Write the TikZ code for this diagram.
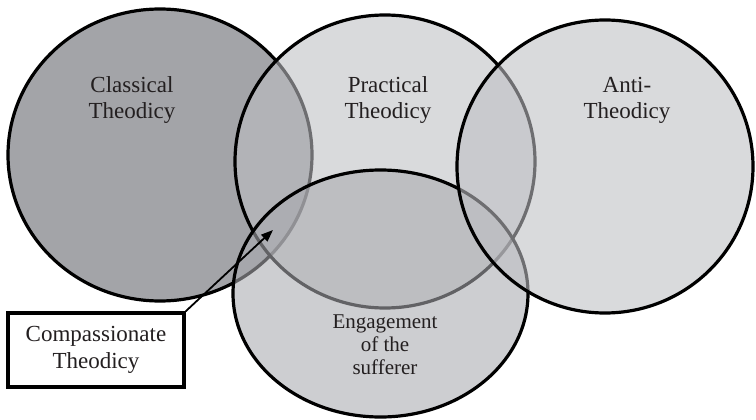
\documentclass[tikz,border=0pt]{standalone}
\usepackage{fontspec}
\setmainfont{Liberation Serif}
\usetikzlibrary{arrows.meta}
\definecolor{classfill}{RGB}{163,164,168}
\definecolor{lightfill}{RGB}{190,191,195}
\definecolor{engfill}{RGB}{169,170,175}
\definecolor{inktext}{RGB}{35,31,32}
\begin{document}
\begin{tikzpicture}[x=1pt,y=-1pt,
  circ/.style={line width=3.2pt, draw=black, fill opacity=0.58},
  lbl/.style={font=\fontsize{23}{26}\selectfont, align=center, text=inktext, inner sep=0pt},
  lblsmall/.style={font=\fontsize{21}{23}\selectfont, align=center, text=inktext, inner sep=0pt},
  callout/.style={draw=black, line width=3.5pt, fill=white, minimum width=176pt, minimum height=74pt, align=center, text=inktext, font=\fontsize{23}{27}\selectfont, inner sep=0pt},
  pointer/.style={-{Triangle[length=12pt,width=9pt]}, line width=1.8pt, draw=black, fill=black}
]
\useasboundingbox (0,0) rectangle (756,420);
% circles in drawing order
\draw[line width=3.2pt, draw=black, fill=classfill] (160,155) ellipse [x radius=152pt, y radius=146pt];
\draw[circ, fill=lightfill] (385,161.5) ellipse [x radius=150pt, y radius=146.5pt];
\draw[circ, fill=engfill] (380.5,293.5) ellipse [x radius=147.5pt, y radius=123.5pt];
\draw[circ, fill=lightfill] (605,166.5) ellipse [x radius=148pt, y radius=146.5pt];
% labels
\node[lbl] (classical) at (132,100) {Classical\\Theodicy};
\node[lbl] (practical) at (388,100) {Practical\\Theodicy};
\node[lbl] (anti) at (627,100) {Anti-\\Theodicy};
\node[lblsmall] (engage) at (385,345) {Engagement\\of the\\sufferer};
% callout
\node[callout] (box) at (96,350) {Compassionate\\Theodicy};
\coordinate (tip) at (273,230);
\draw[pointer] (box.north east) -- (tip);
\end{tikzpicture}
\end{document}
